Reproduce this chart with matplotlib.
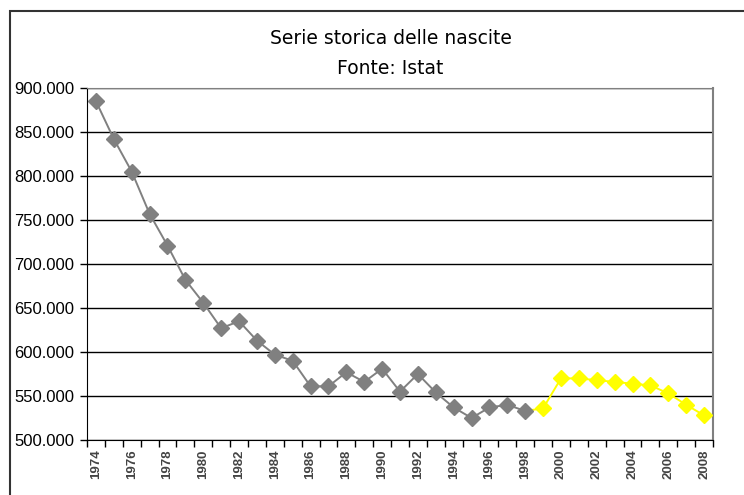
import matplotlib
matplotlib.use('Agg')
import matplotlib.pyplot as plt
from matplotlib.patches import Rectangle
from matplotlib.ticker import FuncFormatter, FixedLocator

years = list(range(1974, 2009))
births = [885000, 842000, 805000, 757000, 721000, 682000, 656000, 627000,
          635000, 613000, 597000, 590000, 561000, 561000, 577000, 566000,
          581000, 555000, 575000, 554000, 537000, 525000, 537000, 540000,
          533000, 536000, 570000, 570000, 568000, 566000, 564000, 562000,
          553000, 540000, 528000]
split_year = 1998  # last year of the grey series

idx = list(range(len(years)))
k = years.index(split_year)

fig = plt.figure(figsize=(7.44, 4.95), dpi=100)
fig.patches.append(Rectangle((9.5 / 744, -0.1), 1.2, 1 - 11 / 495 + 0.1,
                             transform=fig.transFigure, fill=False,
                             edgecolor='#333333', linewidth=1.5))

ax = fig.add_axes([87 / 744, 55 / 495, 626 / 744, 352 / 495])

# yellow series (1998 onward, marker hidden on the first point)
ax.plot(idx[k:], births[k:], color='#FFFF00', linewidth=1.4, marker='D',
        markersize=8.5, markevery=list(range(1, len(idx) - k)), zorder=3)
ax.plot(idx[:k + 1], births[:k + 1], color='#808080', linewidth=1.4,
        marker='D', markersize=8.5, zorder=4)

ax.set_ylim(500000, 900000)
ax.set_yticks(range(500000, 900001, 50000))
ax.yaxis.set_major_formatter(FuncFormatter(lambda v, p: f'{int(v):,}'.replace(',', '.')))
ax.grid(axis='y', color='black', linewidth=1)
ax.set_axisbelow(True)

ax.set_xlim(-0.5, len(years) - 0.5)
ax.xaxis.set_major_locator(FixedLocator([i - 0.5 for i in range(len(years) + 1)]))
ax.xaxis.set_major_formatter(FuncFormatter(lambda v, p: ''))
ax.xaxis.set_minor_locator(FixedLocator(idx[::2]))
ax.set_xticklabels([str(y) for y in years[::2]], minor=True, rotation=90,
                   fontsize=9.5, color='#444444', fontweight='bold',
                   family='Liberation Sans')
ax.tick_params(axis='x', which='minor', length=0, pad=7)
ax.tick_params(axis='x', which='major', length=5, width=1)
ax.tick_params(axis='y', length=5, width=1, labelsize=12, pad=4)
for lbl in ax.get_yticklabels():
    lbl.set_family('Liberation Sans')

ax.spines['left'].set_color('black')
ax.spines['bottom'].set_color('black')
ax.spines['top'].set_color('#808080')
ax.spines['right'].set_color('#808080')
ax.spines['right'].set_linewidth(1.5)

fig.text(0.525, 1 - 38 / 495, 'Serie storica delle nascite', ha='center',
         va='center', fontsize=13.5)
fig.text(0.525, 1 - 68 / 495, 'Fonte: Istat', ha='center', va='center',
         fontsize=13.5)

fig.savefig('out.png', dpi=100)
